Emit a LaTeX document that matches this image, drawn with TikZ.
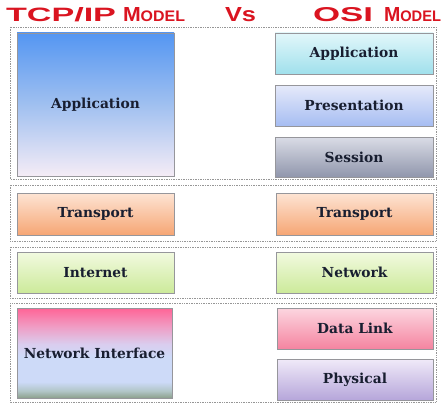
\documentclass[tikz,border=0pt]{standalone}
\usepackage{fontspec}
\usetikzlibrary{shadings}
\newfontfamily\titlefont{Liberation Sans}
\newfontfamily\boxfont{DejaVu Serif}
\definecolor{titlered}{RGB}{218,20,32}
\definecolor{txt}{RGB}{24,30,48}
\definecolor{edge}{RGB}{150,150,155}
\definecolor{grpc}{RGB}{150,150,150}
\definecolor{niA}{RGB}{255,100,150}
\definecolor{niA2}{RGB}{240,155,195}
\definecolor{niB}{RGB}{218,205,238}
\definecolor{niC}{RGB}{205,218,248}
\definecolor{niD}{RGB}{178,198,200}
\definecolor{niE}{RGB}{140,160,140}
\pgfdeclareverticalshading{nishade}{100bp}{color(0bp)=(niE); color(25bp)=(niE); color(29bp)=(niD); color(34bp)=(niC); color(48bp)=(niC); color(55bp)=(niB); color(65bp)=(niA2); color(75bp)=(niA); color(100bp)=(niA)}
\tikzset{
  box/.style={draw=edge, line width=0.6pt, inner sep=0pt, outer sep=0pt,
    text=txt, font=\boxfont\bfseries\fontsize{13.8}{16}\selectfont},
  grp/.style={draw=grpc, densely dotted, line width=0.7pt},
  ttl/.style={text=titlered, inner sep=0pt, outer sep=0pt, anchor=base west},
  appL/.style={top color={rgb,255:red,84;green,150;blue,242}, bottom color={rgb,255:red,245;green,236;blue,246}, middle color={rgb,255:red,160;green,192;blue,240}},
  appR/.style={top color={rgb,255:red,226;green,247;blue,250}, bottom color={rgb,255:red,160;green,224;blue,236}},
  pres/.style={top color={rgb,255:red,230;green,234;blue,250}, bottom color={rgb,255:red,166;green,189;blue,242}},
  sess/.style={top color={rgb,255:red,218;green,220;blue,230}, bottom color={rgb,255:red,144;green,150;blue,172}},
  trans/.style={top color={rgb,255:red,253;green,228;blue,212}, bottom color={rgb,255:red,246;green,166;blue,116}},
  net/.style={top color={rgb,255:red,242;green,250;blue,224}, bottom color={rgb,255:red,204;green,234;blue,154}},
  dlink/.style={top color={rgb,255:red,252;green,214;blue,224}, bottom color={rgb,255:red,245;green,132;blue,160}},
  phys/.style={top color={rgb,255:red,240;green,234;blue,249}, bottom color={rgb,255:red,182;green,166;blue,218}},
  niface/.style={shading=nishade}
}
\begin{document}
\begin{tikzpicture}[x=1pt,y=-1pt]
\fill[white] (0,0) rectangle (443,404);
\useasboundingbox (0,0) rectangle (443,404);
% titles
\node[ttl] (t1) at (6,22) {\resizebox{110pt}{14pt}{\titlefont\bfseries\fontsize{20}{20}\selectfont TCP/IP}};
\node[ttl] (t2) at (123,22) {\resizebox{62pt}{14pt}{\titlefont\bfseries\fontsize{20}{20}\selectfont M\fontsize{15}{15}\selectfont ODEL}};
\node[ttl] (t3) at (225,22) {\resizebox{31pt}{14pt}{\titlefont\bfseries\fontsize{20}{20}\selectfont Vs}};
\node[ttl] (t4) at (313,22) {\resizebox{60pt}{14pt}{\titlefont\bfseries\fontsize{20}{20}\selectfont OSI}};
\node[ttl] (t5) at (384,22) {\resizebox{57pt}{14pt}{\titlefont\bfseries\fontsize{20}{20}\selectfont M\fontsize{15}{15}\selectfont ODEL}};
% groups
\draw[grp] (10,27) rectangle (436,179);
\draw[grp] (10,185) rectangle (436,241);
\draw[grp] (10,247) rectangle (436,298);
\draw[grp] (10,303) rectangle (436,402);
% TCP/IP side
\node[box, appL, minimum width=157pt, minimum height=143pt] (tapp) at (95.5,104.5) {Application};
\node[box, trans, minimum width=157pt, minimum height=42pt] (ttr) at (95.5,214) {Transport};
\node[box, net, minimum width=157pt, minimum height=41pt] (tin) at (95.5,272.5) {Internet};
\node[box, niface, minimum width=155pt, minimum height=90pt] (tni) at (94.5,353) {Network Interface};
% OSI side
\node[box, appR, minimum width=158pt, minimum height=41pt] (oapp) at (354,53.5) {Application};
\node[box, pres, minimum width=158pt, minimum height=41pt] (opr) at (354,105.5) {Presentation};
\node[box, sess, minimum width=158pt, minimum height=40pt] (ose) at (354,157) {Session};
\node[box, trans, minimum width=157pt, minimum height=42pt] (otr) at (354.5,214) {Transport};
\node[box, net, minimum width=157pt, minimum height=41pt] (onw) at (354.5,272.5) {Network};
\node[box, dlink, minimum width=156pt, minimum height=41pt] (odl) at (355,328.5) {Data Link};
\node[box, phys, minimum width=156pt, minimum height=41pt] (oph) at (355,379.5) {Physical};
\end{tikzpicture}
\end{document}
